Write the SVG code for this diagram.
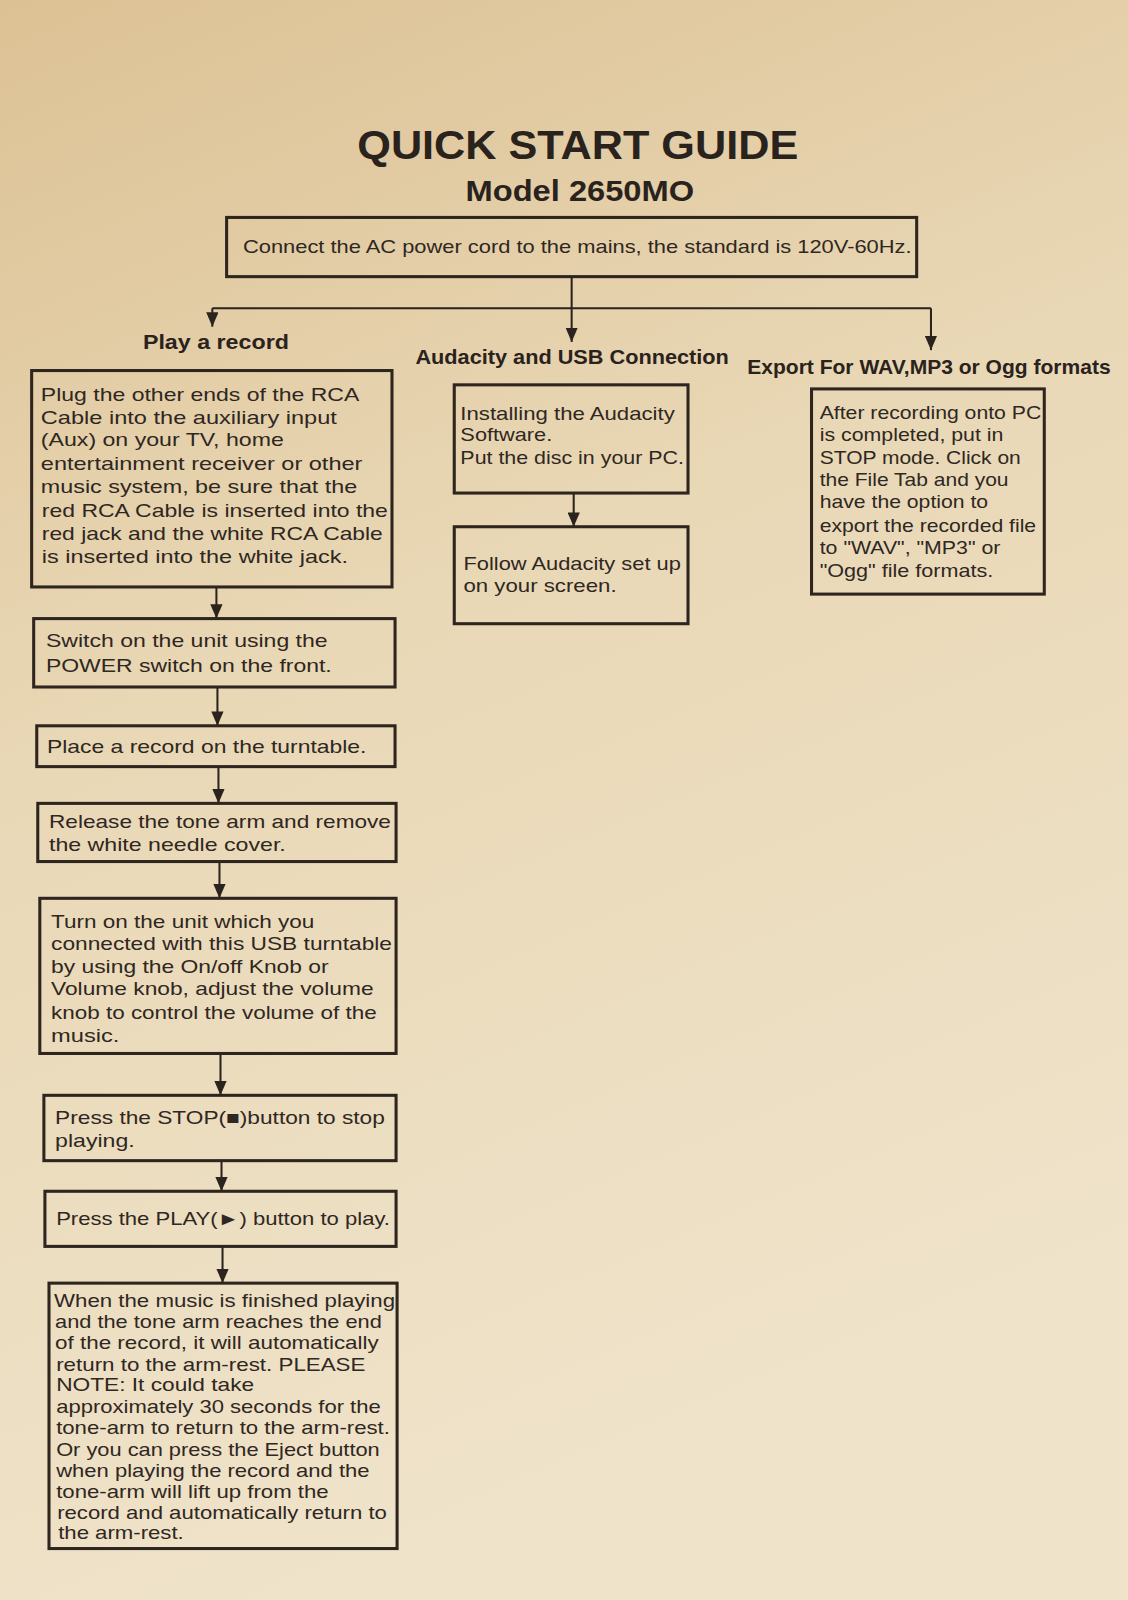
<svg xmlns="http://www.w3.org/2000/svg" width="1128" height="1600" viewBox="0 0 1128 1600">
<defs>
<linearGradient id="bg" x1="0" y1="0" x2="0.3" y2="1">
<stop offset="0" stop-color="#dcc194"/>
<stop offset="0.45" stop-color="#e9d8b6"/>
<stop offset="1" stop-color="#efe3ca"/>
</linearGradient>
<marker id="ah" viewBox="0 0 14 12" refX="14" refY="6" markerWidth="14" markerHeight="12" markerUnits="userSpaceOnUse" orient="auto">
<path d="M0,0 L14,6 L0,12 z" fill="#2b231d"/>
</marker>
<style>
.box{fill:none;stroke:#2e251e;stroke-width:3}
.t{font-family:"Liberation Sans",Arial,sans-serif;font-size:18px;fill:#2f2722}
.h{font-family:"Liberation Sans",Arial,sans-serif;font-weight:bold;fill:#2a221c}
.c{fill:none;stroke:#2b231d;stroke-width:2}
</style>
</defs>
<rect width="1128" height="1600" fill="url(#bg)"/>

<g transform="scale(1.0208)">
<g id="title">
<text class="h" x="566" y="156" font-size="40" text-anchor="middle" textLength="432" lengthAdjust="spacingAndGlyphs">QUICK START GUIDE</text>
<text class="h" x="568" y="197" font-size="28" text-anchor="middle" textLength="224" lengthAdjust="spacingAndGlyphs">Model 2650MO</text>
</g>

<g id="n-power">
<rect class="box" x="222" y="213" width="676" height="58"/>
<text class="t" x="238" y="248" font-size="17" textLength="655" lengthAdjust="spacingAndGlyphs">Connect the AC power cord to the mains, the standard is 120V-60Hz.</text>
</g>

<g id="labels">
<text class="h" x="140" y="342" font-size="19" textLength="143" lengthAdjust="spacingAndGlyphs">Play a record</text>
<text class="h" x="407" y="357" font-size="19" textLength="307" lengthAdjust="spacingAndGlyphs">Audacity and USB Connection</text>
<text class="h" x="732" y="366" font-size="19" textLength="356" lengthAdjust="spacingAndGlyphs">Export  For WAV,MP3 or Ogg formats</text>
</g>

<g id="connectors">
<path class="c" d="M560,271 V302"/>
<path class="c" d="M208,302 H912"/>
<path class="c" d="M208,302 V320" marker-end="url(#ah)"/>
<path class="c" d="M560,302 V335" marker-end="url(#ah)"/>
<path class="c" d="M912,302 V343" marker-end="url(#ah)"/>
<path class="c" d="M212,575 V606" marker-end="url(#ah)"/>
<path class="c" d="M213,673 V711" marker-end="url(#ah)"/>
<path class="c" d="M214,751 V787" marker-end="url(#ah)"/>
<path class="c" d="M215,844 V880" marker-end="url(#ah)"/>
<path class="c" d="M216,1032 V1073" marker-end="url(#ah)"/>
<path class="c" d="M217,1137 V1167" marker-end="url(#ah)"/>
<path class="c" d="M218,1221 V1257" marker-end="url(#ah)"/>
<path class="c" d="M562,483 V516" marker-end="url(#ah)"/>
</g>

<g id="n-plug">
<rect class="box" x="31" y="363" width="353" height="212"/>
<text class="t" x="40" y="393" textLength="312" lengthAdjust="spacingAndGlyphs">Plug the other ends of the RCA</text>
<text class="t" x="40" y="415" textLength="290" lengthAdjust="spacingAndGlyphs">Cable into the auxiliary input</text>
<text class="t" x="40" y="437" textLength="238" lengthAdjust="spacingAndGlyphs">(Aux) on your TV, home</text>
<text class="t" x="40" y="460" textLength="315" lengthAdjust="spacingAndGlyphs">entertainment receiver or other</text>
<text class="t" x="40" y="483" textLength="310" lengthAdjust="spacingAndGlyphs">music system, be sure that the</text>
<text class="t" x="41" y="506" textLength="339" lengthAdjust="spacingAndGlyphs">red RCA Cable is inserted into the</text>
<text class="t" x="41" y="529" textLength="334" lengthAdjust="spacingAndGlyphs">red jack and the white RCA Cable</text>
<text class="t" x="41" y="552" textLength="300" lengthAdjust="spacingAndGlyphs">is inserted into the white jack.</text>
</g>

<g id="n-switch">
<rect class="box" x="33" y="606" width="354" height="67"/>
<text class="t" x="45" y="634" textLength="276" lengthAdjust="spacingAndGlyphs">Switch on the unit using the</text>
<text class="t" x="45" y="658" textLength="280" lengthAdjust="spacingAndGlyphs">POWER switch on the front.</text>
</g>

<g id="n-place">
<rect class="box" x="36" y="711" width="351" height="40"/>
<text class="t" x="46" y="738" textLength="313" lengthAdjust="spacingAndGlyphs">Place a record on the turntable.</text>
</g>

<g id="n-release">
<rect class="box" x="37" y="787" width="351" height="57"/>
<text class="t" x="48" y="811" textLength="335" lengthAdjust="spacingAndGlyphs">Release the tone arm and remove</text>
<text class="t" x="48" y="834" textLength="232" lengthAdjust="spacingAndGlyphs">the white needle cover.</text>
</g>

<g id="n-turnon">
<rect class="box" x="39" y="880" width="349" height="152"/>
<text class="t" x="50" y="909" textLength="258" lengthAdjust="spacingAndGlyphs">Turn on the unit which you</text>
<text class="t" x="50" y="931" textLength="334" lengthAdjust="spacingAndGlyphs">connected with this USB turntable</text>
<text class="t" x="50" y="953" textLength="272" lengthAdjust="spacingAndGlyphs">by using the On/off Knob or</text>
<text class="t" x="50" y="975" textLength="316" lengthAdjust="spacingAndGlyphs">Volume knob, adjust the volume</text>
<text class="t" x="50" y="998" textLength="319" lengthAdjust="spacingAndGlyphs">knob to control the volume of the</text>
<text class="t" x="50" y="1021" textLength="67" lengthAdjust="spacingAndGlyphs">music.</text>
</g>

<g id="n-stop">
<rect class="box" x="43" y="1073" width="345" height="64"/>
<text class="t" x="54" y="1101" textLength="323" lengthAdjust="spacingAndGlyphs">Press the STOP(■)button to stop</text>
<text class="t" x="54" y="1124" textLength="78" lengthAdjust="spacingAndGlyphs">playing.</text>
</g>

<g id="n-play">
<rect class="box" x="44" y="1167" width="344" height="54"/>
<text class="t" x="55" y="1200" textLength="327" lengthAdjust="spacingAndGlyphs">Press the PLAY(►) button to play.</text>
</g>

<g id="n-finish">
<rect class="box" x="48" y="1257" width="341" height="260"/>
<text class="t" x="53" y="1280" textLength="334" lengthAdjust="spacingAndGlyphs">When the music is finished playing</text>
<text class="t" x="54" y="1301" textLength="320" lengthAdjust="spacingAndGlyphs">and the tone arm reaches the end</text>
<text class="t" x="54" y="1322" textLength="317" lengthAdjust="spacingAndGlyphs">of the record, it will automatically</text>
<text class="t" x="55" y="1343" textLength="303" lengthAdjust="spacingAndGlyphs">return to the arm-rest.  PLEASE</text>
<text class="t" x="55" y="1363" textLength="194" lengthAdjust="spacingAndGlyphs">NOTE:  It could take</text>
<text class="t" x="55" y="1384" textLength="318" lengthAdjust="spacingAndGlyphs">approximately 30 seconds for the</text>
<text class="t" x="55" y="1405" textLength="327" lengthAdjust="spacingAndGlyphs">tone-arm to return to the arm-rest.</text>
<text class="t" x="55" y="1426" textLength="317" lengthAdjust="spacingAndGlyphs">Or you can press the Eject button</text>
<text class="t" x="55" y="1447" textLength="307" lengthAdjust="spacingAndGlyphs">when playing the record and the</text>
<text class="t" x="55" y="1467" textLength="267" lengthAdjust="spacingAndGlyphs">tone-arm will lift up from the</text>
<text class="t" x="56" y="1488" textLength="323" lengthAdjust="spacingAndGlyphs">record and automatically return to</text>
<text class="t" x="57" y="1508" textLength="123" lengthAdjust="spacingAndGlyphs">the arm-rest.</text>
</g>

<g id="n-install">
<rect class="box" x="445" y="377" width="229" height="106"/>
<text class="t" x="451" y="411" textLength="210" lengthAdjust="spacingAndGlyphs">Installing the Audacity</text>
<text class="t" x="451" y="432" textLength="90" lengthAdjust="spacingAndGlyphs">Software.</text>
<text class="t" x="451" y="455" textLength="219" lengthAdjust="spacingAndGlyphs">Put the disc in your PC.</text>
</g>

<g id="n-follow">
<rect class="box" x="445" y="516" width="229" height="95"/>
<text class="t" x="454" y="558" textLength="213" lengthAdjust="spacingAndGlyphs">Follow Audacity set up</text>
<text class="t" x="454" y="580" textLength="150" lengthAdjust="spacingAndGlyphs">on your screen.</text>
</g>

<g id="n-export">
<rect class="box" x="795" y="381" width="228" height="201"/>
<text class="t" x="803" y="410" textLength="217" lengthAdjust="spacingAndGlyphs">After recording onto PC</text>
<text class="t" x="803" y="432" textLength="180" lengthAdjust="spacingAndGlyphs">is completed, put in</text>
<text class="t" x="803" y="455" textLength="197" lengthAdjust="spacingAndGlyphs">STOP mode. Click on</text>
<text class="t" x="803" y="476" textLength="185" lengthAdjust="spacingAndGlyphs">the File Tab and you</text>
<text class="t" x="803" y="498" textLength="165" lengthAdjust="spacingAndGlyphs">have the option to</text>
<text class="t" x="803" y="521" textLength="212" lengthAdjust="spacingAndGlyphs">export the recorded file</text>
<text class="t" x="803" y="543" textLength="177" lengthAdjust="spacingAndGlyphs">to "WAV", "MP3" or</text>
<text class="t" x="803" y="565" textLength="170" lengthAdjust="spacingAndGlyphs">"Ogg" file formats.</text>
</g>
</g>
</svg>
